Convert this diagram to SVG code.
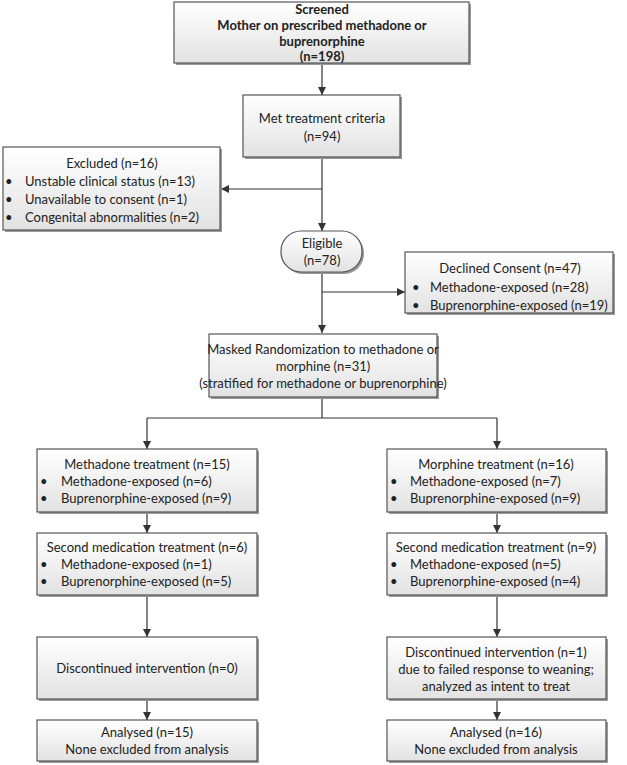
<svg xmlns="http://www.w3.org/2000/svg" width="627" height="765" viewBox="0 0 627 765">
<defs>
<linearGradient id="g" x1="0" y1="0" x2="0" y2="1">
<stop offset="0" stop-color="#ffffff"/>
<stop offset="1" stop-color="#e2e2e2"/>
</linearGradient>
<marker id="ah" viewBox="0 0 10 10" refX="10" refY="5" markerWidth="8" markerHeight="8" markerUnits="userSpaceOnUse" orient="auto">
<path d="M0,0 L10,5 L0,10 z" fill="#333"/>
</marker>
</defs>
<style>
.box{fill:url(#g);stroke:#555;stroke-width:1.2}
.sh{fill:#9a9a9a}
text{font-family:Lato,"Liberation Sans",sans-serif;font-size:13px;fill:#222}
.c{text-anchor:middle}
.b{font-weight:bold}
.ln{fill:none;stroke:#333;stroke-width:1.2}
.ar{fill:none;stroke:#333;stroke-width:1.2;marker-end:url(#ah)}
</style>
<rect width="627" height="765" fill="#fff"/>
<g id="connectors">
<path class="ar" d="M322,63 V95"/>
<path class="ar" d="M322,157 V231"/>
<path class="ar" d="M322,189 H221"/>
<path class="ar" d="M322,272 V333"/>
<path class="ar" d="M322,292 H405"/>
<path class="ln" d="M322,397 V418 M147,418 H497"/>
<path class="ar" d="M147,418 V449"/>
<path class="ar" d="M497,418 V449"/>
<path class="ar" d="M147,512 V533"/>
<path class="ar" d="M497,512 V533"/>
<path class="ar" d="M147,595 V637"/>
<path class="ar" d="M497,595 V637"/>
<path class="ar" d="M147,699 V720"/>
<path class="ar" d="M497,699 V720"/>
</g>
<g id="screened">
<rect class="sh" x="176" y="4" width="295" height="61"/>
<rect class="box" x="174" y="2" width="295" height="61"/>
<text class="c b" x="322" y="14">Screened</text>
<text class="c b" x="322" y="30">Mother on prescribed methadone or</text>
<text class="c b" x="322" y="46">buprenorphine</text>
<text class="c b" x="322" y="61">(n=198)</text>
</g>
<g id="met">
<rect class="sh" x="245" y="97" width="157" height="62"/>
<rect class="box" x="243" y="95" width="157" height="62"/>
<text class="c" x="322" y="123">Met treatment criteria</text>
<text class="c" x="322" y="141">(n=94)</text>
</g>
<g id="excluded">
<rect class="sh" x="5" y="149" width="217" height="83"/>
<rect class="box" x="3" y="147" width="217" height="83"/>
<text class="c" x="112" y="168">Excluded (n=16)</text>
<text x="5" y="186">•</text><text x="25" y="186">Unstable clinical status (n=13)</text>
<text x="5" y="204">•</text><text x="25" y="204">Unavailable to consent (n=1)</text>
<text x="5" y="222">•</text><text x="25" y="222">Congenital abnormalities (n=2)</text>
</g>
<g id="eligible">
<rect class="sh" x="283" y="233" width="81" height="41" rx="20"/>
<rect class="box" x="281" y="231" width="81" height="41" rx="20"/>
<text class="c" x="322" y="248">Eligible</text>
<text class="c" x="322" y="265">(n=78)</text>
</g>
<g id="declined">
<rect class="sh" x="407" y="254" width="208" height="61"/>
<rect class="box" x="405" y="252" width="208" height="61"/>
<text class="c" x="510" y="273">Declined Consent (n=47)</text>
<text x="412" y="292">•</text><text x="430" y="292">Methadone-exposed (n=28)</text>
<text x="412" y="310">•</text><text x="430" y="310">Buprenorphine-exposed (n=19)</text>
</g>
<g id="randomization">
<rect class="sh" x="211" y="336" width="228" height="63"/>
<rect class="box" x="209" y="334" width="228" height="63"/>
<text class="c" x="323" y="354">Masked Randomization to methadone or</text>
<text class="c" x="323" y="371">morphine (n=31)</text>
<text class="c" x="323" y="388">(stratified for methadone or buprenorphine)</text>
</g>
<g id="methadone-treatment">
<rect class="sh" x="39" y="451" width="220" height="63"/>
<rect class="box" x="37" y="449" width="220" height="63"/>
<text class="c" x="147" y="469">Methadone treatment (n=15)</text>
<text x="40" y="486">•</text><text x="61" y="486">Methadone-exposed (n=6)</text>
<text x="40" y="503">•</text><text x="61" y="503">Buprenorphine-exposed (n=9)</text>
</g>
<g id="morphine-treatment">
<rect class="sh" x="389" y="451" width="219" height="63"/>
<rect class="box" x="387" y="449" width="219" height="63"/>
<text class="c" x="496" y="469">Morphine treatment (n=16)</text>
<text x="390" y="486">•</text><text x="410" y="486">Methadone-exposed (n=7)</text>
<text x="390" y="503">•</text><text x="410" y="503">Buprenorphine-exposed (n=9)</text>
</g>
<g id="second-left">
<rect class="sh" x="39" y="535" width="220" height="62"/>
<rect class="box" x="37" y="533" width="220" height="62"/>
<text class="c" x="147" y="552">Second medication treatment (n=6)</text>
<text x="40" y="569">•</text><text x="61" y="569">Methadone-exposed (n=1)</text>
<text x="40" y="586">•</text><text x="61" y="586">Buprenorphine-exposed (n=5)</text>
</g>
<g id="second-right">
<rect class="sh" x="389" y="535" width="219" height="62"/>
<rect class="box" x="387" y="533" width="219" height="62"/>
<text class="c" x="496" y="552">Second medication treatment (n=9)</text>
<text x="390" y="569">•</text><text x="410" y="569">Methadone-exposed (n=5)</text>
<text x="390" y="586">•</text><text x="410" y="586">Buprenorphine-exposed (n=4)</text>
</g>
<g id="discontinued-left">
<rect class="sh" x="39" y="639" width="220" height="62"/>
<rect class="box" x="37" y="637" width="220" height="62"/>
<text class="c" x="147" y="673">Discontinued intervention (n=0)</text>
</g>
<g id="discontinued-right">
<rect class="sh" x="389" y="639" width="219" height="62"/>
<rect class="box" x="387" y="637" width="219" height="62"/>
<text class="c" x="496" y="657">Discontinued intervention (n=1)</text>
<text class="c" x="496" y="674">due to failed response to weaning;</text>
<text class="c" x="496" y="691">analyzed as intent to treat</text>
</g>
<g id="analysed-left">
<rect class="sh" x="39" y="722" width="220" height="41"/>
<rect class="box" x="37" y="720" width="220" height="41"/>
<text class="c" x="147" y="737">Analysed (n=15)</text>
<text class="c" x="147" y="754">None excluded from analysis</text>
</g>
<g id="analysed-right">
<rect class="sh" x="389" y="722" width="219" height="41"/>
<rect class="box" x="387" y="720" width="219" height="41"/>
<text class="c" x="496" y="737">Analysed (n=16)</text>
<text class="c" x="496" y="754">None excluded from analysis</text>
</g>
</svg>
